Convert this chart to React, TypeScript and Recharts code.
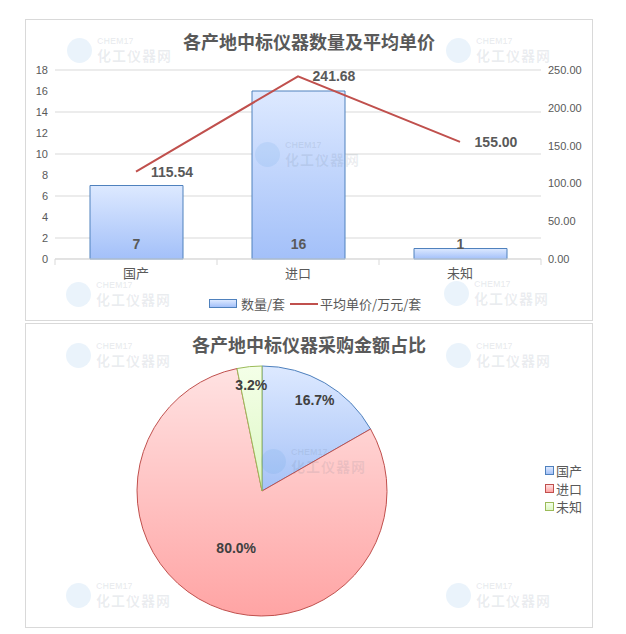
import React from "react"
import {
  Bar,
  CartesianGrid,
  Cell,
  ComposedChart,
  LabelList,
  Line,
  Pie,
  PieChart,
  XAxis,
  YAxis,
} from "recharts"

// 产地
const categories = ["国产", "进口", "未知"]
// 数量/套
const counts = [7, 16, 1]
// 平均单价/万元/套
const avgPrices = [115.54, 241.68, 155.0]
// 采购金额/万元
const amounts = [808.78, 3866.88, 155.0]
const countTicks = [0, 2, 4, 6, 8, 10, 12, 14, 16, 18]
const priceTicks = [0, 50, 100, 150, 200, 250]

const barData = categories.map((name, i) => ({
  name,
  count: counts[i],
  price: avgPrices[i],
}))
const pieData = categories.map((name, i) => ({ name, value: amounts[i] }))

const GRAY = "#595959"
const CJK = "'Noto Sans CJK SC', 'Noto Sans', sans-serif"
const NUM = "'Liberation Sans', 'Noto Sans CJK SC', sans-serif"

const PLOT_W = 486
const slices = [
  { id: "pBlue", top: "#dde9ff", bottom: "#a6c2f7", stroke: "#4f81bd" },
  { id: "pRed", top: "#ffe2e2", bottom: "#ffa4a4", stroke: "#c0504d" },
  { id: "pGreen", top: "#f4ffe8", bottom: "#ddf7c4", stroke: "#9bbb59" },
]

function Watermark({ left, top }: { left: number; top: number }) {
  return (
    <div style={{ position: "absolute", left, top, width: 110, height: 28, pointerEvents: "none", zIndex: 5 }}>
      <div
        style={{
          position: "absolute",
          left: 1,
          top: 1,
          width: 25,
          height: 25,
          borderRadius: "50%",
          background: "rgba(60,150,220,0.11)",
        }}
      />
      <div
        style={{
          position: "absolute",
          left: 31,
          top: -1,
          fontSize: 9,
          fontWeight: 700,
          color: "rgba(90,110,130,0.13)",
          fontFamily: NUM,
        }}
      >
        CHEM17
      </div>
      <div
        style={{
          position: "absolute",
          left: 31,
          top: 8,
          fontSize: 14,
          fontWeight: 700,
          color: "rgba(90,110,130,0.12)",
          fontFamily: CJK,
          letterSpacing: 1,
        }}
      >
        化工仪器网
      </div>
    </div>
  )
}

const CategoryTick = (props: any) => {
  const { x, y, payload, index } = props
  const band = PLOT_W / categories.length
  return (
    <g>
      <line x1={x - band / 2} x2={x - band / 2} y1={y} y2={y + 6} stroke="#d9d9d9" />
      {index === categories.length - 1 && (
        <line x1={x + band / 2} x2={x + band / 2} y1={y} y2={y + 6} stroke="#d9d9d9" />
      )}
      <text x={x} y={y + 19} textAnchor="middle" fill={GRAY} fontSize={13} fontFamily={CJK}>
        {payload.value}
      </text>
    </g>
  )
}

const CountLabel = (props: any) => {
  const { x, y, width, height, value } = props
  return (
    <text
      x={x + width / 2}
      y={y + height - 10}
      textAnchor="middle"
      fill={GRAY}
      fontSize={14}
      fontWeight={700}
      fontFamily={NUM}
    >
      {value}
    </text>
  )
}

const PriceLabel = (props: any) => {
  const { x, y, value } = props
  return (
    <text
      x={x + 36}
      y={y}
      dy="0.36em"
      textAnchor="middle"
      fill={GRAY}
      fontSize={14}
      fontWeight={700}
      fontFamily={NUM}
    >
      {Number(value).toFixed(2)}
    </text>
  )
}

const RADIAN = Math.PI / 180
const labelRadius = [0.84, 0.5, 0.85]
const PieLabel = (props: any) => {
  const { cx, cy, midAngle, outerRadius, percent, index } = props
  const r = outerRadius * labelRadius[index]
  const x = cx + r * Math.cos(-midAngle * RADIAN)
  const y = cy + r * Math.sin(-midAngle * RADIAN)
  return (
    <text
      x={x}
      y={y}
      dy="0.36em"
      textAnchor="middle"
      fill="#404040"
      fontSize={14}
      fontWeight={700}
      fontFamily={NUM}
    >
      {(percent * 100).toFixed(1)}%
    </text>
  )
}

const frame: React.CSSProperties = {
  position: "absolute",
  left: 25,
  width: 568,
  border: "1px solid #d9d9d9",
  boxSizing: "border-box",
  background: "#fff",
}

const titleStyle: React.CSSProperties = {
  position: "absolute",
  left: 0,
  width: "100%",
  textAlign: "center",
  fontFamily: CJK,
  fontSize: 18,
  fontWeight: 700,
  color: GRAY,
  zIndex: 2,
}

export default function App() {
  return (
    <div style={{ position: "absolute", left: 0, top: 0, width: 626, height: 634, background: "#fff" }}>
      {/* 数量及平均单价 */}
      <div style={{ ...frame, top: 19, height: 302 }} />
      {/* 采购金额占比 */}
      <div style={{ ...frame, top: 323, height: 305 }} />

      <div style={{ position: "absolute", left: 25, top: 19, width: 568, height: 302 }}>
        <div style={{ ...titleStyle, top: 9 }}>各产地中标仪器数量及平均单价</div>
        <ComposedChart
          width={568}
          height={302}
          data={barData}
          margin={{ top: 51, right: 0, bottom: 32, left: 0 }}
        >
          <defs>
            <linearGradient id="barGrad" x1="0" y1="0" x2="0" y2="1">
              <stop offset="0%" stopColor="#dde9ff" />
              <stop offset="100%" stopColor="#a3c0f9" />
            </linearGradient>
          </defs>
          <CartesianGrid yAxisId="left" vertical={false} stroke="#d9d9d9" />
          <XAxis
            dataKey="name"
            height={30}
            stroke="#d9d9d9"
            tickLine={false}
            tickSize={0}
            tickMargin={0}
            tick={<CategoryTick />}
          />
          <YAxis
            yAxisId="left"
            width={30}
            domain={[0, 18]}
            ticks={countTicks}
            axisLine={false}
            tickLine={false}
            tickSize={0}
            tickMargin={7}
            tick={{ fill: GRAY, fontSize: 11, fontFamily: NUM }}
          />
          <YAxis
            yAxisId="right"
            orientation="right"
            width={52}
            domain={[0, 250]}
            ticks={priceTicks}
            axisLine={false}
            tickLine={false}
            tickSize={0}
            tickMargin={7}
            tickFormatter={(v: number) => v.toFixed(2)}
            tick={{ fill: GRAY, fontSize: 11, fontFamily: NUM, textAnchor: "start" }}
          />
          <Bar
            yAxisId="left"
            dataKey="count"
            barSize={93}
            fill="url(#barGrad)"
            stroke="#4f81bd"
            strokeWidth={1}
            isAnimationActive={false}
          >
            <LabelList dataKey="count" content={<CountLabel />} />
          </Bar>
          <Line
            yAxisId="right"
            dataKey="price"
            type="linear"
            stroke="#c0504d"
            strokeWidth={2}
            dot={false}
            activeDot={false}
            isAnimationActive={false}
          >
            <LabelList dataKey="price" content={<PriceLabel />} />
          </Line>
        </ComposedChart>
        <div
          style={{
            position: "absolute",
            left: 184,
            top: 275,
            display: "flex",
            alignItems: "center",
            fontFamily: CJK,
            fontSize: 13,
            color: GRAY,
          }}
        >
          <span
            style={{
              display: "inline-block",
              width: 26,
              height: 7,
              border: "1px solid #4f81bd",
              background: "linear-gradient(#dde9ff, #a3c0f9)",
              marginRight: 4,
            }}
          />
          <span>数量/套</span>
          <span
            style={{
              display: "inline-block",
              width: 28,
              height: 2,
              background: "#c0504d",
              margin: "0 2px 0 5px",
            }}
          />
          <span>平均单价/万元/套</span>
        </div>
      </div>

      <div style={{ position: "absolute", left: 25, top: 323, width: 568, height: 305 }}>
        <div style={{ ...titleStyle, top: 8 }}>各产地中标仪器采购金额占比</div>
        <PieChart width={568} height={305}>
          <defs>
            {slices.map((s) => (
              <linearGradient key={s.id} id={s.id} x1="0" y1="0" x2="0" y2="1">
                <stop offset="0%" stopColor={s.top} />
                <stop offset="100%" stopColor={s.bottom} />
              </linearGradient>
            ))}
          </defs>
          <Pie
            data={pieData}
            dataKey="value"
            nameKey="name"
            cx={232}
            cy={163}
            outerRadius={125}
            startAngle={90}
            endAngle={-270}
            label={PieLabel}
            labelLine={false}
            isAnimationActive={false}
          >
            {pieData.map((d, i) => (
              <Cell key={d.name} fill={`url(#${slices[i].id})`} stroke={slices[i].stroke} strokeWidth={1} />
            ))}
          </Pie>
        </PieChart>
        <div style={{ position: "absolute", left: 520, top: 138, fontFamily: CJK, fontSize: 13, color: GRAY }}>
          {categories.map((c, i) => (
            <div key={c} style={{ display: "flex", alignItems: "center", height: 18 }}>
              <span
                style={{
                  display: "inline-block",
                  width: 7,
                  height: 7,
                  border: `1px solid ${slices[i].stroke}`,
                  background: `linear-gradient(${slices[i].top}, ${slices[i].bottom})`,
                  marginRight: 2,
                }}
              />
              <span>{c}</span>
            </div>
          ))}
        </div>
      </div>

      {[
        [66, 37], [445, 37], [254, 141], [65, 281], [443, 280],
        [65, 342], [445, 342], [260, 448], [65, 582], [445, 582],
      ].map(([l, t], i) => (
        <Watermark key={i} left={l} top={t} />
      ))}
    </div>
  )
}
